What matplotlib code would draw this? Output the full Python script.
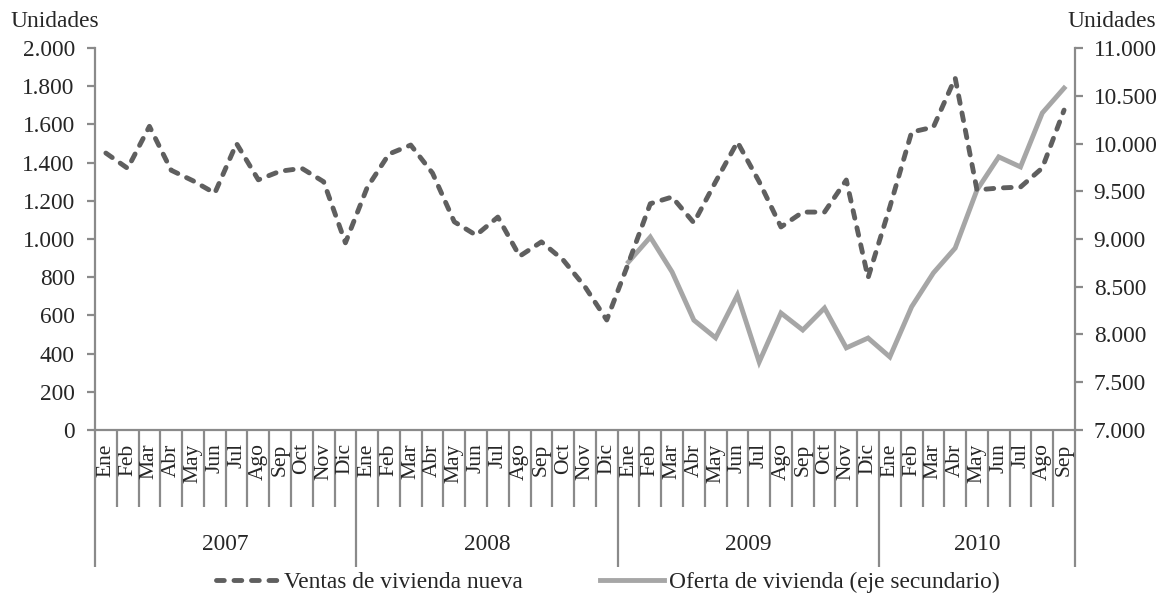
import numpy as np
import matplotlib
matplotlib.use("Agg")
import matplotlib.pyplot as plt
from matplotlib.ticker import FuncFormatter

plt.rcParams["font.family"] = ["Liberation Serif", "DejaVu Serif"]

years = ["2007", "2008", "2009", "2010"]
month_names = ["Ene", "Feb", "Mar", "Abr", "May", "Jun",
               "Jul", "Ago", "Sep", "Oct", "Nov", "Dic"]
months_per_year = [12, 12, 12, 9]

# ventas mensuales de vivienda nueva (eje izquierdo)
ventas = [1450, 1370, 1590, 1360, 1305, 1240, 1500, 1310, 1355, 1370, 1300, 980,
          1270, 1445, 1492, 1345, 1090, 1020, 1115, 910, 985, 890, 750, 576,
          875, 1185, 1220, 1085, 1300, 1508, 1300, 1063, 1141, 1141, 1309, 797,
          1168, 1560, 1586, 1843, 1257, 1267, 1272, 1372, 1675]

# oferta de vivienda (eje secundario), disponible desde enero 2009
oferta_start = 24
oferta = [8760, 9020, 8655, 8150, 7965, 8413, 7712, 8225, 8047, 8277, 7860, 7963,
          7765, 8290, 8645, 8905, 9513, 9860, 9755, 10320, 10580]

labels = [m for n in months_per_year for m in month_names[:n]]
n = len(labels)
x = np.arange(n) + 0.5
x_oferta = x[oferta_start:oferta_start + len(oferta)]

text_color = "#262626"
spine_color = "#8a8a8a"
fs = 16.8

fig = plt.figure(figsize=(11.64, 5.93), dpi=100)
ax = fig.add_axes([0.0816, 0.2749, 0.8419, 0.6441])
ax2 = ax.twinx()

ax.plot(x, ventas, color="#5f5f5f", lw=3.5, linestyle=(0, (1.6, 2.0)),
        dash_capstyle="round", solid_capstyle="round", zorder=3,
        label="Ventas de vivienda nueva")
ax2.plot(x_oferta, oferta, color="#a6a6a6", lw=3.5, solid_joinstyle="miter",
         label="Oferta de vivienda (eje secundario)")
ax.set_zorder(ax2.get_zorder() + 1)
ax.patch.set_visible(False)

ax.set_xlim(0, n)
ax.set_ylim(0, 2000)
ax2.set_ylim(7000, 11000)
ax.set_yticks(np.arange(0, 2001, 200))
ax2.set_yticks(np.arange(7000, 11001, 500))

thousands = FuncFormatter(lambda v, p: f"{int(v):,}".replace(",", "."))
ax.yaxis.set_major_formatter(thousands)
ax2.yaxis.set_major_formatter(thousands)

for a in (ax, ax2):
    for s in a.spines.values():
        s.set_color(spine_color)
        s.set_linewidth(1.6)
    a.spines["top"].set_visible(False)
ax.spines["right"].set_visible(False)
ax2.spines["left"].set_visible(False)
ax2.spines["bottom"].set_visible(False)

ax.tick_params(axis="y", direction="out", length=5.5, width=1.6,
               color=spine_color, labelsize=fs, labelcolor=text_color, pad=9)
ax2.tick_params(axis="y", direction="out", length=5.5, width=1.6,
                color=spine_color, labelsize=fs, labelcolor=text_color, pad=8)

# separadores de meses (menores) y de años (mayores)
bounds = np.concatenate([[0], np.cumsum(months_per_year)])
ax.set_xticks(bounds)
ax.set_xticks(np.arange(n + 1), minor=True)
ax.set_xticklabels([])
ax.tick_params(axis="x", which="major", direction="out", length=98.5,
               width=1.6, color=spine_color)
ax.tick_params(axis="x", which="minor", direction="out", length=55.5,
               width=1.6, color=spine_color)

trans = ax.get_xaxis_transform()
for xi, lab in zip(x, labels):
    ax.text(xi, -0.035, lab, rotation=90, ha="center", va="top",
            fontsize=15.5, color=text_color, transform=trans)

centers = (bounds[:-1] + bounds[1:]) / 2
for c, yr in zip(centers, years):
    ax.text(c, -0.3, yr, ha="center", va="center", fontsize=fs,
            color=text_color, transform=trans)

fig.text(0.0086, 0.963, "Unidades", fontsize=fs, color=text_color,
         ha="left", va="center")
fig.text(0.9935, 0.963, "Unidades", fontsize=fs, color=text_color,
         ha="right", va="center")

h1, l1 = ax.get_legend_handles_labels()
h2, l2 = ax2.get_legend_handles_labels()
fig.legend(h1 + h2, l1 + l2, loc="center", bbox_to_anchor=(0.522, 0.018),
           ncol=2, frameon=False, fontsize=fs, handlelength=2.75,
           handletextpad=0.2, columnspacing=3.3, labelcolor=text_color)

fig.savefig("out.png", dpi=100, facecolor="white")
